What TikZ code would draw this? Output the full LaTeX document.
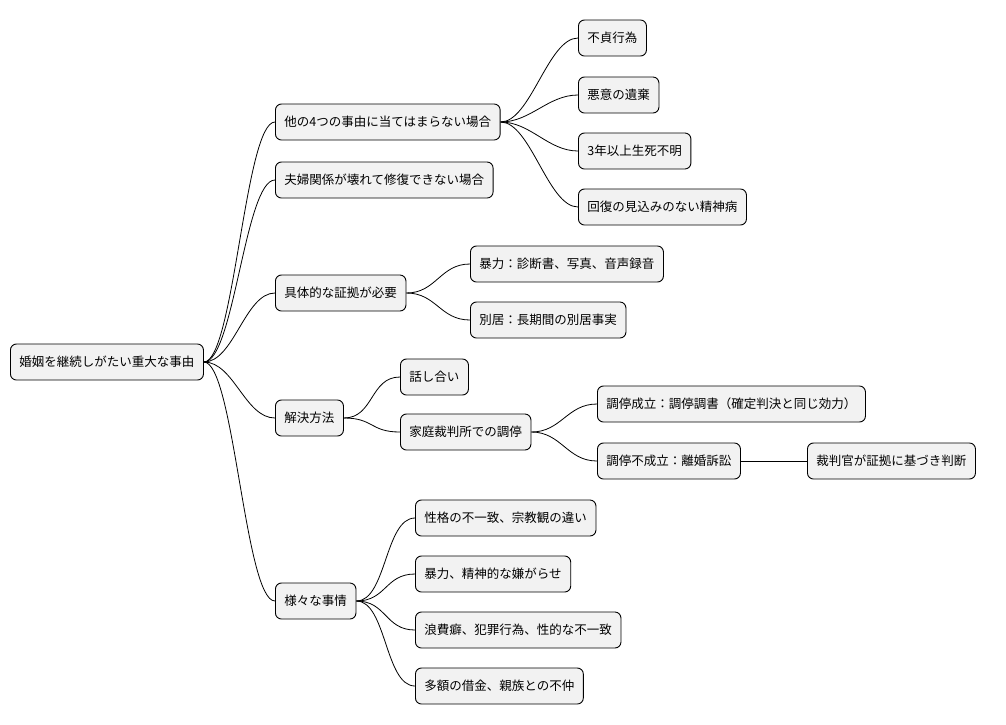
\documentclass[tikz,border=0pt]{standalone}
\usepackage{fontspec}
\setmainfont{Noto Sans CJK JP}
\begin{document}
\begin{tikzpicture}[x=1pt,y=-1pt,
  topic/.style={draw, fill=gray!10, rounded corners=6pt, line width=0.9pt, anchor=west,
    minimum height=36pt, inner xsep=9pt, font=\fontsize{12.5}{14}\selectfont},
  branch/.style={line width=0.8pt}]
\useasboundingbox (0,0) rectangle (1006,724);

% root and first level
\node[topic] (root) at (10,362) {婚姻を継続しがたい重大な事由};
\node[topic] (other) at (275,122) {他の4つの事由に当てはまらない場合};
\node[topic] (broken) at (275,180) {夫婦関係が壊れて修復できない場合};
\node[topic] (proof) at (275,293) {具体的な証拠が必要};
\node[topic] (solve) at (275,418) {解決方法};
\node[topic] (cases) at (275,601) {様々な事情};

% children of other
\node[topic] (o1) at (578,38) {不貞行為};
\node[topic] (o2) at (578,95) {悪意の遺棄};
\node[topic] (o3) at (578,151) {3年以上生死不明};
\node[topic] (o4) at (578,207) {回復の見込みのない精神病};

% children of proof
\node[topic] (p1) at (470,264) {暴力：診断書、写真、音声録音};
\node[topic] (p2) at (470,320) {別居：長期間の別居事実};

% children of solve
\node[topic] (s1) at (400,377) {話し合い};
\node[topic] (s2) at (400,432) {家庭裁判所での調停};
\node[topic] (m1) at (597,404) {調停成立：調停調書（確定判決と同じ効力）};
\node[topic] (m2) at (597,461) {調停不成立：離婚訴訟};
\node[topic] (judge) at (807,461) {裁判官が証拠に基づき判断};

% children of cases
\node[topic] (c1) at (415,518) {性格の不一致、宗教観の違い};
\node[topic] (c2) at (415,574) {暴力、精神的な嫌がらせ};
\node[topic] (c3) at (415,630) {浪費癖、犯罪行為、性的な不一致};
\node[topic] (c4) at (415,686) {多額の借金、親族との不仲};

\foreach \a/\b in {root/other,root/broken,root/proof,root/solve,root/cases,
  other/o1,other/o2,other/o3,other/o4,proof/p1,proof/p2,solve/s1,solve/s2,
  s2/m1,s2/m2,cases/c1,cases/c2,cases/c3,cases/c4}
  \draw[branch] (\a.east) .. controls ++(30,0) and ++(-30,0) .. (\b.west);
\draw[branch] (m2) -- (judge);
\end{tikzpicture}
\end{document}
